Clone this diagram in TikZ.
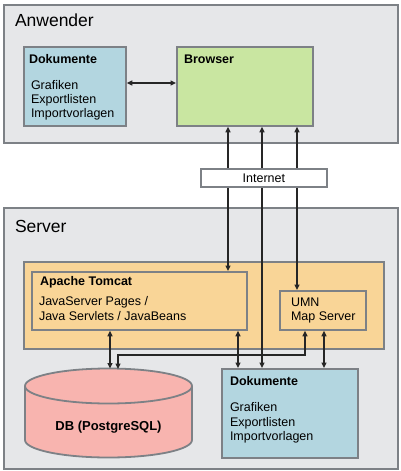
\documentclass[tikz,border=0pt]{standalone}
\usepackage{fontspec}
\setmainfont{Liberation Sans}
\usetikzlibrary{arrows.meta}
\definecolor{panelfill}{HTML}{E6E7E9}
\definecolor{bordergray}{HTML}{7D8186}
\definecolor{dokfill}{HTML}{B3D6E0}
\definecolor{browserfill}{HTML}{C9E6A1}
\definecolor{orangefill}{HTML}{F9D597}
\definecolor{dbfill}{HTML}{F8B4AF}
\definecolor{linecol}{HTML}{262626}
\tikzset{
  frame/.style={draw=bordergray, line width=1.8pt, inner sep=0pt, outer sep=0.9pt, anchor=north west},
  txt/.style={anchor=base west, inner sep=0pt, outer sep=0pt, font=\fontsize{12.5}{14}\selectfont},
  btxt/.style={anchor=base west, inner sep=0pt, outer sep=0pt, font=\fontsize{12.5}{14}\selectfont\bfseries},
  ttl/.style={anchor=base west, inner sep=0pt, outer sep=0pt, font=\fontsize{17.5}{20}\selectfont},
  conn/.style={draw=linecol, line width=1.3pt, {Triangle[length=5.5pt,width=5pt]}-{Triangle[length=5.5pt,width=5pt]}},
  cyl/.style={draw=bordergray, line width=1.8pt, fill=dbfill},
}
\begin{document}
\begin{tikzpicture}[x=1pt,y=-1pt]
\useasboundingbox (0,0) rectangle (400,471);
% panels
\node[frame, fill=panelfill, minimum width=394pt, minimum height=138pt] (anw) at (3,4) {};
\node[frame, fill=panelfill, minimum width=394pt, minimum height=261pt] (srv) at (3,207) {};
\node[ttl] (anwt) at (15,26) {Anwender};
\node[ttl] (srvt) at (15,232) {Server};
% Anwender boxes
\node[frame, fill=dokfill, minimum width=102pt, minimum height=79pt] (dok1) at (23,46) {};
\node[frame, fill=browserfill, minimum width=136pt, minimum height=79pt] (browser) at (176,46) {};
\node[btxt] (dok1t) at (29,63) {Dokumente};
\node[txt] (dok1a) at (31,89.3) {Grafiken};
\node[txt] (dok1b) at (31,103.3) {Exportlisten};
\node[txt] (dok1c) at (31,117.3) {Importvorlagen};
\node[btxt] (browsert) at (184,63) {Browser};
% Server boxes
\node[frame, fill=orangefill, minimum width=360pt, minimum height=87pt] (tomcat) at (23,261) {};
\node[frame, fill=orangefill, minimum width=215pt, minimum height=58pt] (apache) at (31,271) {};
\node[frame, fill=orangefill, minimum width=86pt, minimum height=39pt] (umn) at (279,290) {};
\node[btxt] (apachet) at (40,285) {Apache Tomcat};
\node[txt] (apachea) at (39,305) {JavaServer Pages /};
\node[txt] (apacheb) at (39,320) {Java Servlets / JavaBeans};
\node[txt] (umna) at (291,306.7) {UMN};
\node[txt] (umnb) at (291,320.7) {Map Server};
\node[frame, fill=dokfill, minimum width=136pt, minimum height=89pt] (dokS) at (221,368) {};
\node[btxt] (dokSt) at (230,385) {Dokumente};
\node[txt] (dokSa) at (230,411.7) {Grafiken};
\node[txt] (dokSb) at (230,426) {Exportlisten};
\node[txt] (dokSc) at (230,440) {Importvorlagen};
% DB cylinder
\filldraw[cyl] (108.5,440) ellipse (83.5pt and 17.5pt);
\fill[dbfill] (25,386) rectangle (192,440);
\draw[cyl] (25,386) -- (25,440);
\draw[cyl] (192,386) -- (192,440);
\filldraw[cyl] (108.5,386) ellipse (83.5pt and 17.5pt);
\node[anchor=base, inner sep=0pt, font=\fontsize{13}{15}\selectfont\bfseries] (db) at (108.5,430.5) {DB (PostgreSQL)};
% helper coordinates
\coordinate (y83) at (0,83);
\coordinate (y355) at (0,355);
\coordinate (x228) at (228,0);
\coordinate (x262) at (262,0);
\coordinate (x297) at (297,0);
\coordinate (x110) at (110,0);
\coordinate (x238) at (238,0);
\coordinate (x305) at (305,0);
\coordinate (x324) at (324,0);
\coordinate (dbt1) at (110,368.5);
\coordinate (dbt2) at (118,369);
% connectors
\draw[conn] (dok1.east |- y83) -- (browser.west |- y83);
\draw[conn] (browser.south -| x228) -- (apache.north -| x228);
\draw[conn] (browser.south -| x262) -- (dokS.north -| x262);
\draw[conn] (browser.south -| x297) -- (umn.north -| x297);
\draw[conn] (apache.south -| x110) -- (dbt1);
\draw[conn] (umn.south -| x305) |- (y355 -| dbt2) -- (dbt2);
\draw[conn] (apache.south -| x238) -- (dokS.north -| x238);
\draw[conn] (umn.south -| x324) -- (dokS.north -| x324);
% Internet
\node[frame, fill=white, line width=1.6pt, minimum width=126pt, minimum height=18pt, font=\fontsize{12.5}{14}\selectfont] (internet) at (200,168) {Internet};
\end{tikzpicture}
\end{document}
